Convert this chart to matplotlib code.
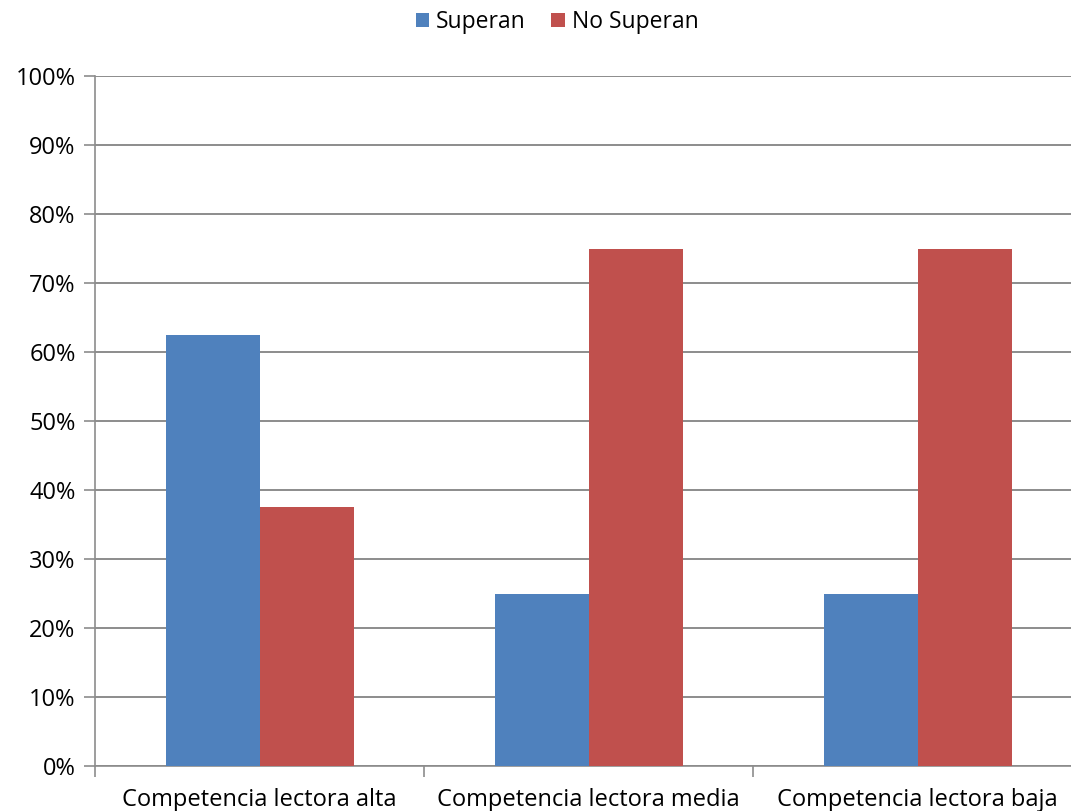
import numpy as np
import matplotlib.pyplot as plt
from matplotlib.ticker import PercentFormatter

categories = ['Competencia lectora alta', 'Competencia lectora media', 'Competencia lectora baja']
superan = [62.5, 25.0, 25.0]
no_superan = [37.5, 75.0, 75.0]

plt.rcParams['font.family'] = ['Open Sans', 'DejaVu Sans']

fig = plt.figure(figsize=(10.71, 8.11), dpi=100)
ax = fig.add_axes([95 / 1071, 45 / 811, 1 - 95 / 1071, 690 / 811])

x = np.arange(len(categories))
w = 1 / 3.5
ax.bar(x - w / 2, superan, w, color='#4f81bd', label='Superan', zorder=3)
ax.bar(x + w / 2, no_superan, w, color='#c0504d', label='No Superan', zorder=3)

ax.set_ylim(0, 100)
ax.set_xlim(-0.5, 2.5 - 11 / 329)
ax.set_yticks(np.arange(0, 101, 10))
ax.yaxis.set_major_formatter(PercentFormatter(decimals=0))
ax.grid(axis='y', color='#8c8c8c', linewidth=1.4, zorder=0)

ax.set_xticks([-0.5, 0.5, 1.5])
ax.set_xticklabels([])
ax.set_xticks(x, minor=True)
ax.set_xticklabels(categories, minor=True, fontsize=17)
ax.tick_params(axis='x', which='minor', length=0, pad=16)
ax.tick_params(axis='x', which='major', length=8, color='#8c8c8c', width=1.2)
ax.tick_params(axis='y', length=8, color='#8c8c8c', width=1.2, labelsize=17, pad=6)

for s in ['top', 'right']:
    ax.spines[s].set_visible(False)
for s in ['left', 'bottom']:
    ax.spines[s].set_color('#8c8c8c')
    ax.spines[s].set_linewidth(1.2)

fig.legend(loc='center', bbox_to_anchor=(557 / 1071, 1 - 22 / 811), ncol=2, frameon=False,
           fontsize=16.5, handlelength=0.6, handleheight=0.6, handletextpad=0.3, columnspacing=1.1)

fig.savefig('out.png', dpi=100)
